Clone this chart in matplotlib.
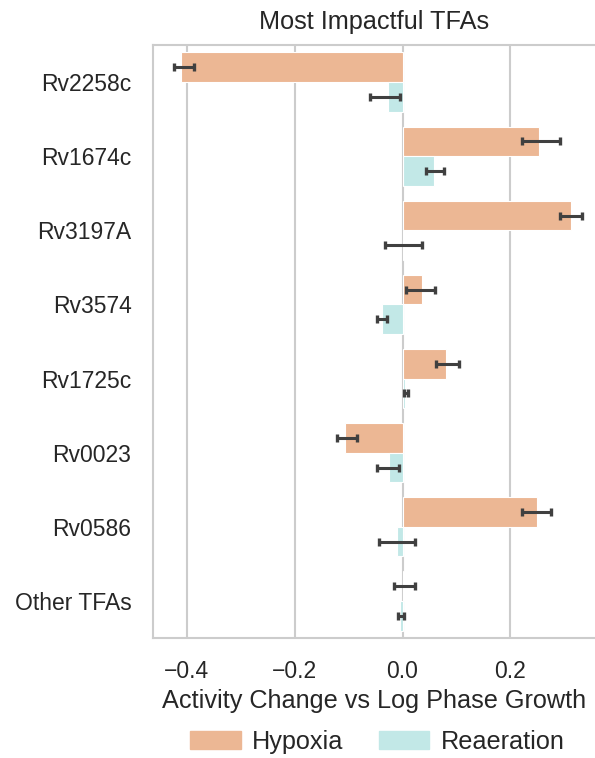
import numpy as np
import matplotlib
matplotlib.use("Agg")
import matplotlib.pyplot as plt
from matplotlib.patches import Patch

# ─── Data ────────────────────────────────────────────────────────────
TFS = ["Rv2258c", "Rv1674c", "Rv3197A", "Rv3574",
       "Rv1725c", "Rv0023", "Rv0586", "Other TFAs"]

hyp_mean = [-0.410, 0.253, 0.312, 0.036, 0.080, -0.106, 0.250, 0.002]
hyp_lo   = [-0.424, 0.221, 0.293, 0.007, 0.062, -0.121, 0.221, -0.016]
hyp_hi   = [-0.387, 0.292, 0.332, 0.060, 0.105, -0.085, 0.276, 0.023]

rea_mean = [-0.027, 0.059, 0.002, -0.038, 0.005, -0.025, -0.010, -0.004]
rea_lo   = [-0.061, 0.044, -0.033, -0.047, 0.002, -0.048, -0.043, -0.008]
rea_hi   = [-0.005, 0.077, 0.037, -0.028, 0.010, -0.006, 0.023, 0.002]

C = {"hyp": "#ECB794", "rea": "#C2E8E7"}
TEXT = "#262626"

plt.rcParams["font.family"] = ["Liberation Sans", "DejaVu Sans"]

fig = plt.figure(figsize=(5.95, 7.58), dpi=100)
ax = fig.add_axes([0.257, 0.1583, 0.743, 0.7823])

y = np.arange(len(TFS))
for off, mean, lo, hi, col in [
    (-0.2, hyp_mean, hyp_lo, hyp_hi, C["hyp"]),
    (0.2, rea_mean, rea_lo, rea_hi, C["rea"]),
]:
    mean = np.array(mean)
    err = [mean - np.array(lo), np.array(hi) - mean]
    ax.barh(y + off, mean, height=0.4, color=col, edgecolor="white",
            linewidth=0.8, zorder=2)
    ax.errorbar(mean, y + off, xerr=err, fmt="none", ecolor="#404040",
                elinewidth=2.2, capsize=2.8, capthick=2.4, zorder=3)

ax.set_ylim(len(TFS) - 0.5, -0.5)
ax.set_xlim(-0.463, 0.357)
ax.set_yticks(y)
ax.set_yticklabels(TFS)
ax.set_xticks([-0.4, -0.2, 0.0, 0.2])
ax.set_xticklabels(["\u22120.4", "\u22120.2", "0.0", "0.2"])
ax.tick_params(axis="both", length=0, labelsize=16.5, colors=TEXT, pad=15.5)
ax.grid(True, axis="x", color="#cccccc", linewidth=1.5, zorder=0)
ax.set_axisbelow(True)
for side in ["left", "top", "bottom"]:
    ax.spines[side].set_color("#cccccc")
    ax.spines[side].set_linewidth(1.5)
ax.spines["right"].set_visible(False)

ax.set_xlabel("Activity Change vs Log Phase Growth", fontsize=18.2,
              color=TEXT, labelpad=4.5)
ax.set_title("Most Impactful TFAs", fontsize=18.2, color=TEXT, pad=11.5)

handles = [Patch(color=C["hyp"], label="Hypoxia"),
           Patch(color=C["rea"], label="Reaeration")]
fig.legend(handles=handles, loc="center", bbox_to_anchor=(0.634, 0.021),
           ncol=2, frameon=False, fontsize=18.2, handlelength=2.0,
           handleheight=0.7, handletextpad=0.45, columnspacing=1.4,
           borderpad=0, labelcolor=TEXT)

fig.savefig("out.png", dpi=100)
